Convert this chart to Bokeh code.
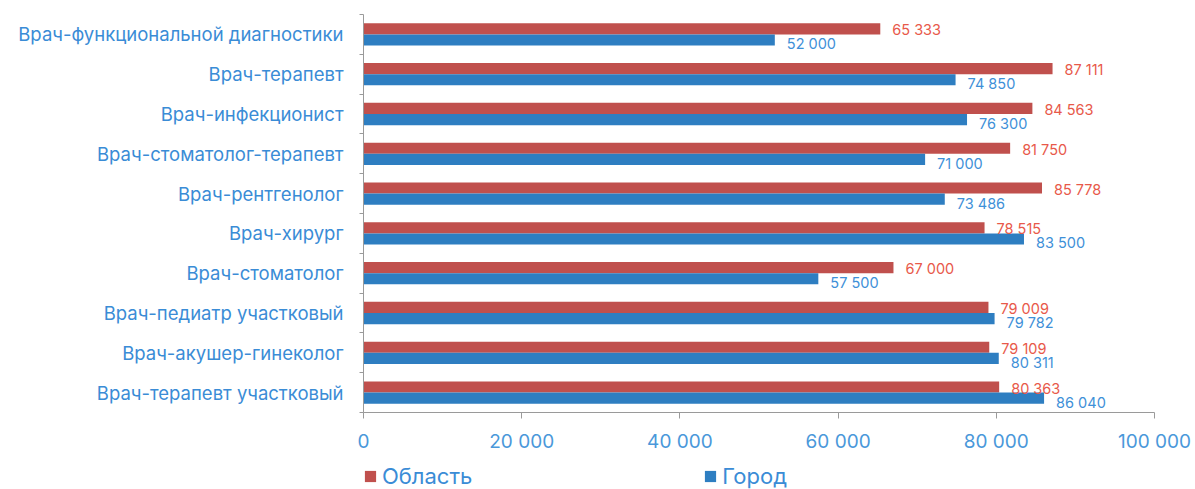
from bokeh.plotting import figure
from bokeh.layouts import column
from bokeh.models import (Range1d, FixedTicker, Legend, LegendItem,
                          ColumnDataSource)
from bokeh.core.properties import value
from bokeh.embed import file_html
from bokeh.resources import INLINE

categories = [
    "Врач-функциональной диагностики",
    "Врач-терапевт",
    "Врач-инфекционист",
    "Врач-стоматолог-терапевт",
    "Врач-рентгенолог",
    "Врач-хирург",
    "Врач-стоматолог",
    "Врач-педиатр участковый",
    "Врач-акушер-гинеколог",
    "Врач-терапевт участковый",
]
oblast = [65333, 87111, 84563, 81750, 85778, 78515, 67000, 79009, 79109, 80363]
gorod = [52000, 74850, 76300, 71000, 73486, 83500, 57500, 79782, 80311, 86040]
x_ticks = [0, 20000, 40000, 60000, 80000, 100000]
x_tick_labels = ["0", "20 000", "40 000", "60 000", "80 000", "100 000"]
series_names = ["Область", "Город"]

FONT = "Inter"
RED = "#C0504D"
BLUE = "#2E7EC1"
RED_TXT = "#E8594A"
BLUE_TXT = "#3E90D8"
AX = "#9a9a9a"
W = 1195

n = len(categories)
centers = [n - i - 0.5 for i in range(n)]


def fmt(v):
    return f"{v:,}".replace(",", " ")


src_r = ColumnDataSource(dict(y=[c + 0.14 for c in centers], v=oblast,
                              t=[fmt(v) for v in oblast]))
src_b = ColumnDataSource(dict(y=[c - 0.14 for c in centers], v=gorod,
                              t=[fmt(v) for v in gorod]))

p = figure(width=W, height=455, output_backend="svg", toolbar_location=None,
           x_range=Range1d(0, 100000), y_range=Range1d(0, n),
           min_border_left=363, min_border_right=41, min_border_top=14,
           min_border_bottom=42)
p.outline_line_color = None
p.xgrid.visible = False
p.ygrid.visible = False

p.hbar(y="y", right="v", left=0, height=0.28, source=src_r,
       fill_color=RED, line_color=None)
p.hbar(y="y", right="v", left=0, height=0.28, source=src_b,
       fill_color=BLUE, line_color=None)

p.text(x="v", y="y", text="t", source=src_r, x_offset=12, y_offset=1,
       text_align="left", text_baseline="middle", text_color=RED_TXT,
       text_font=value(FONT), text_font_size="14.5px")
p.text(x="v", y="y", text="t", source=src_b, x_offset=12, y_offset=4,
       text_align="left", text_baseline="middle", text_color=BLUE_TXT,
       text_font=value(FONT), text_font_size="14.5px")

# x axis
xa = p.xaxis[0]
xa.ticker = FixedTicker(ticks=x_ticks)
xa.major_label_overrides = {t: l for t, l in zip(x_ticks, x_tick_labels)}
xa.axis_line_color = AX
xa.major_tick_line_color = AX
xa.major_tick_out = 6
xa.major_tick_in = 0
xa.minor_tick_line_color = None
xa.major_label_standoff = 11
xa.major_label_text_font = FONT
xa.major_label_text_font_size = "19px"
xa.major_label_text_color = "#4A98DA"

# y axis: labels at category centres, small ticks at category boundaries
ya = p.yaxis[0]
ya.ticker = FixedTicker(ticks=centers, minor_ticks=list(range(n + 1)))
ya.major_label_overrides = {c: name for c, name in zip(centers, categories)}
ya.axis_line_color = AX
ya.major_tick_line_color = None
ya.major_tick_out = 0
ya.major_tick_in = 0
ya.minor_tick_line_color = AX
ya.minor_tick_out = 4
ya.minor_tick_in = 0
ya.major_label_standoff = 16
ya.major_label_text_font = FONT
ya.major_label_text_font_size = "18.5px"
ya.major_label_text_color = "#3A8CD6"

# legend strip below the chart (its frame is aligned with the chart's frame)
pl = figure(width=W, height=34, output_backend="svg", toolbar_location=None,
            x_range=Range1d(0, 1), y_range=Range1d(0, 1),
            min_border=0, outline_line_color=None)
pl.axis.visible = False
pl.xgrid.visible = False
pl.ygrid.visible = False
# swatch renderers (their data lie outside the visible range)
lr = pl.hbar(y=[-10], right=[1], left=[0], height=0.5, fill_color=RED, line_color=None)
lb = pl.hbar(y=[-10], right=[1], left=[0], height=0.5, fill_color=BLUE, line_color=None)
legend = Legend(items=[LegendItem(label=series_names[0], renderers=[lr]),
                       LegendItem(label=series_names[1], renderers=[lb])],
                location=(0, 0), orientation="horizontal",
                glyph_width=14, glyph_height=14, label_standoff=5,
                spacing=231, padding=0, margin=0,
                border_line_color=None, background_fill_alpha=0,
                label_text_font=FONT, label_text_font_size="22px",
                label_text_color="#3A8CD6")
pl.add_layout(legend)

open("out.html", "w").write(file_html(column(p, pl), INLINE))
